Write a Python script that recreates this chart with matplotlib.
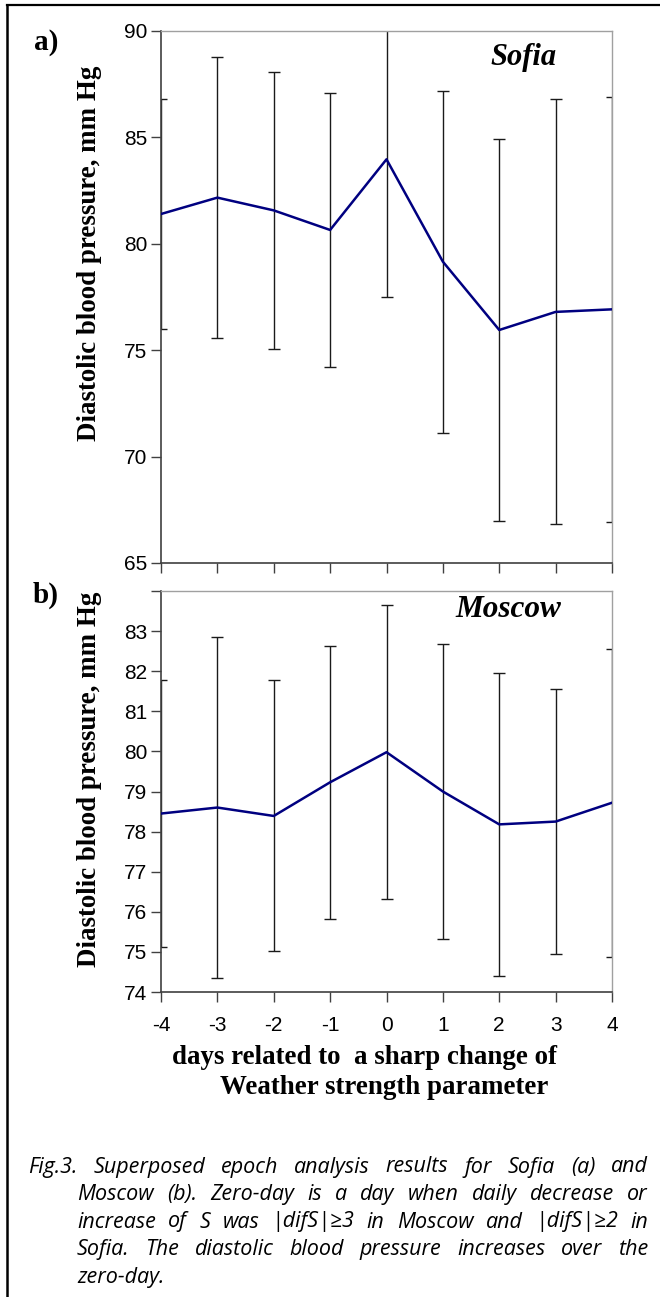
import matplotlib
matplotlib.use('Agg')
import matplotlib.pyplot as plt
from matplotlib.lines import Line2D

plt.rcParams['axes.unicode_minus'] = False

# ---------------- data ----------------
days = [-4, -3, -2, -1, 0, 1, 2, 3, 4]

sofia_mean = [81.40, 82.17, 81.57, 80.65, 83.97, 79.16, 75.95, 76.80, 76.92]
sofia_err = [5.40, 6.62, 6.50, 6.45, 6.45, 8.03, 8.98, 9.99, 9.97]

moscow_mean = [78.45, 78.60, 78.39, 79.23, 79.98, 79.00, 78.18, 78.25, 78.72]
moscow_err = [3.32, 4.26, 3.38, 3.40, 3.67, 3.68, 3.77, 3.30, 3.84]

xtick_labels = ['-4', '-3', '-2', '-1', '0', '1', '2', '3', '4']
sofia_yticks = [65, 70, 75, 80, 85, 90]
sofia_ytick_labels = ['65', '70', '75', '80', '85', '90']
moscow_yticks = [74, 75, 76, 77, 78, 79, 80, 81, 82, 83, 84]
moscow_ytick_labels = ['74', '75', '76', '77', '78', '79', '80', '81', '82', '83', '']

ylabel_text = 'Diastolic blood pressure, mm Hg'
xlabel_line1 = 'days related to  a sharp change of'
xlabel_line2 = 'Weather strength parameter'
panel_labels = ['a)', 'b)']
city_names = ['Sofia', 'Moscow']
caption_lines = [
    'Fig.3. Superposed epoch analysis results for Sofia (a) and',
    'Moscow (b). Zero-day is a day when daily decrease or',
    'increase of S was |difS|\u22653 in Moscow and |difS|\u22652 in',
    'Sofia. The diastolic blood pressure increases over the',
    'zero-day.',
]

# ---------------- layout ----------------
W, H = 660, 1297
fig = plt.figure(figsize=(W / 100, H / 100), dpi=100)


def fx(px):
    return px / W


def fy(py):
    return 1 - py / H


SERIF = 'Liberation Serif'
SANS = 'Liberation Sans'

ax1 = fig.add_axes([fx(161), fy(563), (612 - 161) / W, (563 - 31) / H])
ax2 = fig.add_axes([fx(161), fy(992), (612 - 161) / W, (992 - 591) / H])


def style(ax, mean, err, ylim, yticks, ylabels, show_xlabels):
    ax.errorbar(days, mean, yerr=err, fmt='none', ecolor='#1a1a1a',
                elinewidth=1.0, capsize=4.5, capthick=1.0, zorder=2)
    ax.plot(days, mean, color='#000080', lw=1.8, zorder=3)
    ax.set_xlim(-4, 4)
    ax.set_ylim(*ylim)
    ax.set_xticks(days)
    ax.set_xticklabels(xtick_labels if show_xlabels else [''] * len(days),
                       fontfamily=SANS, fontsize=15)
    ax.set_yticks(yticks)
    ax.set_yticklabels(ylabels, fontfamily=SANS, fontsize=15)
    ax.tick_params(axis='both', direction='out', length=7, width=1.0,
                   color='#404040', top=False, right=False)
    ax.tick_params(axis='y', pad=3)
    ax.tick_params(axis='x', pad=10)
    for s in ['left', 'bottom']:
        ax.spines[s].set_color('#404040')
        ax.spines[s].set_linewidth(1.2)
    for s in ['top', 'right']:
        ax.spines[s].set_color('#a0a0a0')
        ax.spines[s].set_linewidth(1.0)
    ax.patch.set_alpha(0)


style(ax1, sofia_mean, sofia_err, (65, 90), sofia_yticks, sofia_ytick_labels, False)
style(ax2, moscow_mean, moscow_err, (74, 84), moscow_yticks, moscow_ytick_labels, True)

# y labels
fig.text(fx(90), fy(253), ylabel_text, rotation=90, ha='center', va='center',
         fontfamily=SERIF, fontweight='bold', fontsize=19.4)
fig.text(fx(90), fy(779), ylabel_text, rotation=90, ha='center', va='center',
         fontfamily=SERIF, fontweight='bold', fontsize=19.4)

# x label (two lines)
fig.text(fx(365), fy(1057), xlabel_line1, ha='center', va='center',
         fontfamily=SERIF, fontweight='bold', fontsize=19.4)
fig.text(fx(384), fy(1087), xlabel_line2, ha='center', va='center',
         fontfamily=SERIF, fontweight='bold', fontsize=19.4)

# panel labels
fig.text(fx(46), fy(43), panel_labels[0], ha='center', va='center',
         fontfamily=SERIF, fontweight='bold', fontsize=21)
fig.text(fx(46), fy(595), panel_labels[1], ha='center', va='center',
         fontfamily=SERIF, fontweight='bold', fontsize=21)

# city names
fig.text(fx(524), fy(58), city_names[0], ha='center', va='center',
         fontfamily=SERIF, fontweight='bold', fontstyle='italic', fontsize=22)
fig.text(fx(508), fy(610), city_names[1], ha='center', va='center',
         fontfamily=SERIF, fontweight='bold', fontstyle='italic', fontsize=22.5)

# outer frame (top and left)
fig.add_artist(Line2D([fx(7), 1.0], [fy(5), fy(5)], color='black', lw=1.6))
fig.add_artist(Line2D([fx(7), fx(7)], [fy(5), 0.0], color='black', lw=1.8))

# caption, justified
cap_font = dict(fontfamily=['Open Sans', 'DejaVu Sans'], fontstyle='italic',
                fontsize=15.5, va='center', ha='left')
line_y = [1167, 1194.5, 1222, 1249.5, 1277]
line_x0 = [28, 77, 77, 77, 77]
right_edge = 648
fig.canvas.draw()
renderer = fig.canvas.get_renderer()
for i, line in enumerate(caption_lines):
    words = line.split(' ')
    texts = [fig.text(0, fy(line_y[i]), w, **cap_font) for w in words]
    widths = [t.get_window_extent(renderer).width for t in texts]
    if i < len(caption_lines) - 1 and len(words) > 1:
        gap = (right_edge - line_x0[i] - sum(widths)) / (len(words) - 1)
    else:
        sp = fig.text(0, 0, 'a a', **cap_font)
        sp2 = fig.text(0, 0, 'aa', **cap_font)
        gap = sp.get_window_extent(renderer).width - sp2.get_window_extent(renderer).width
        sp.remove()
        sp2.remove()
    x = line_x0[i]
    for t, w in zip(texts, widths):
        t.set_x(fx(x))
        x += w + gap

fig.savefig('out.png', dpi=100)
